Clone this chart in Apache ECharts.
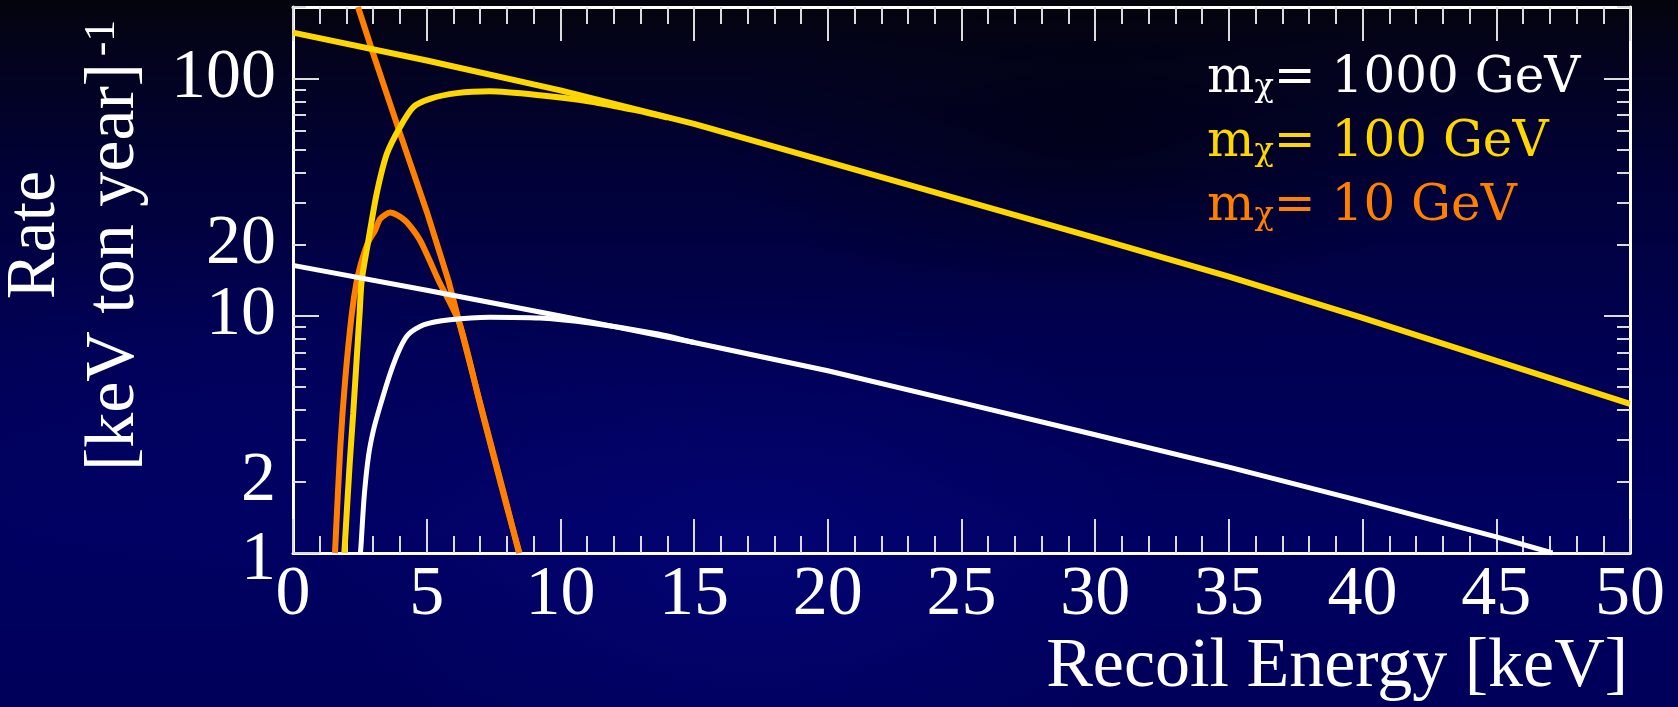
<!DOCTYPE html>
<html>
<head>
<meta charset="utf-8">
<title>WIMP recoil spectra</title>
<script src="https://cdn.jsdelivr.net/npm/echarts@6.0.0/dist/echarts.min.js"></script>
<style>
    html, body {
        margin: 0;
        padding: 0;
    }
    body {
        width: 1678px;
        height: 707px;
        background:
            radial-gradient(ellipse 420px 260px at 45% 78%, rgba(10, 10, 150, 0.35), rgba(0, 0, 0, 0) 100%),
            radial-gradient(ellipse 500px 200px at 15% 60%, rgba(5, 5, 120, 0.30), rgba(0, 0, 0, 0) 100%),
            radial-gradient(ellipse 380px 160px at 65% 20%, rgba(0, 0, 0, 0.45), rgba(0, 0, 0, 0) 100%),
            linear-gradient(to bottom, #04040c 0%, #03031a 6%, #010138 25%, #000052 50%, #000060 75%, #00005a 100%);
    }
    #chart {
        width: 1678px;
        height: 707px;
    }
</style>
</head>
<body>
<div id="chart"></div>
<script>
    // recoil energy [keV] / rate [keV ton year]^-1
    const flat1000 = [[0, 16.3], [5, 12.8], [10, 9.98], [15, 7.71], [20, 5.86], [25, 4.3], [30, 3.15], [35, 2.3], [40, 1.65], [45, 1.17], [47.1, 1.0]];
    const eff1000 = [[2.52, 1.0], [2.54, 1.06], [2.66, 1.72], [2.82, 2.55], [3.01, 3.3], [3.26, 4.17], [3.63, 5.69], [4.0, 7.28], [4.32, 8.35], [4.88, 9.15], [5.87, 9.62], [7.36, 9.86], [9.23, 9.77], [11.1, 9.31], [13.6, 8.4], [15, 7.71]];

    const flat100 = [[0, 156], [5, 119], [10, 89], [15, 64.3], [20, 44.5], [25, 30.8], [30, 21.3], [35, 14.6], [40, 9.8], [45, 6.45], [50, 4.25]];
    const eff100 = [[1.92, 1.0], [2.12, 2.38], [2.25, 3.86], [2.37, 6.28], [2.49, 10.2], [2.57, 14.1], [2.82, 20.8], [3.13, 32.7], [3.51, 48.1], [4.0, 62.3], [4.5, 75.7], [5.12, 82], [6.12, 86.7], [7.36, 88.3], [9.23, 85], [11.1, 80], [12.8, 73.5], [14, 68.4]];

    const flat10 = [[2.43, 200], [3, 127], [4, 58.8], [5, 27.5], [5.81, 14.1], [7, 4.28], [8, 1.59], [8.45, 1.0]];
    const eff10 = [[1.57, 1.0], [1.77, 2.8], [1.95, 5.34], [2.2, 10.2], [2.39, 14.1], [2.6, 17.5], [2.82, 20.5], [3.07, 22.9], [3.26, 25.6], [3.63, 27.2], [4.19, 25.2], [4.75, 20.8], [5.44, 14.1], [6.23, 9.25], [7, 4.22], [8, 1.56], [8.47, 1.0]];

    const xTicks = [0, 5, 10, 15, 20, 25, 30, 35, 40, 45, 50];
    const yMajorTicks = [1, 10, 100];
    const yMinorTicks = [2, 3, 4, 5, 6, 7, 8, 9, 20, 30, 40, 50, 60, 70, 80, 90, 200];
    const yMajorLabels = [1, 10, 100];
    const yMinorLabels = [2, 20];

    const legendRows = ['1000', '100', '10'];
    const colors = ['#ffffff', '#ffd700', '#ff7f00'];

    const serif = 'Liberation Serif';
    const tickStyle = { color: '#dcdcdc', width: 2 };
    const lineStyleAxis = { color: '#ffffff', width: 3 };

    let chart = echarts.init(document.getElementById('chart'));

    function yAxisOf(position, ticks, tickLen, labels, showLine) {
        return {
            type: 'log',
            logBase: 10,
            min: 1,
            max: 200,
            position: position,
            splitLine: { show: false },
            axisLine: { show: showLine, lineStyle: lineStyleAxis },
            axisTick: { show: true, inside: true, length: tickLen, customValues: ticks, lineStyle: tickStyle },
            axisLabel: labels ? {
                show: true,
                customValues: labels,
                // the "1" sits a little under its tick in the original
                formatter: function (v) {
                    let s = String(Math.round(v));
                    return s === '1' ? '{low|1}' : s;
                },
                rich: { low: { fontFamily: serif, fontSize: 70, color: '#ffffff', padding: [16, 0, 0, 0] } },
                color: '#ffffff',
                fontFamily: serif,
                fontSize: 70,
                margin: 17
            } : { show: false }
        };
    }

    function xAxisOf(position, showLabel) {
        return {
            type: 'value',
            min: 0,
            max: 50,
            interval: 5,
            position: position,
            splitLine: { show: false },
            axisLine: { show: true, lineStyle: lineStyleAxis },
            axisTick: { show: true, inside: true, length: 34, lineStyle: tickStyle },
            minorTick: { show: true, splitNumber: 5, length: 17, lineStyle: tickStyle },
            axisLabel: showLabel ? {
                show: true,
                color: '#ffffff',
                fontFamily: serif,
                fontSize: 70,
                margin: 8,
                customValues: xTicks
            } : { show: false }
        };
    }

    function curve(data, color, width, smooth) {
        return {
            type: 'line',
            data: data,
            showSymbol: false,
            symbol: 'none',
            smooth: smooth,
            lineStyle: { color: color, width: width },
            xAxisIndex: 0,
            yAxisIndex: 0
        };
    }

    let legendText = legendRows.map(function (m, i) {
        return {
            type: 'text',
            x: 1207,
            y: 54 + i * 64,
            style: {
                text: '{m|m}{s|χ}{t|= ' + m + ' GeV}',
                verticalAlign: 'top',
                rich: {
                    m: { fontFamily: 'DejaVu Serif', fontSize: 50, lineHeight: 50, fill: colors[i] },
                    s: { fontFamily: 'DejaVu Serif', fontSize: 32, lineHeight: 4, verticalAlign: 'bottom', fill: colors[i] },
                    t: { fontFamily: 'DejaVu Serif', fontSize: 50, lineHeight: 50, fill: colors[i] }
                }
            }
        };
    });

    chart.setOption({
        animation: false,
        backgroundColor: 'transparent',
        grid: { left: 293, right: 48, top: 7, bottom: 154, outerBoundsMode: 'none' },
        xAxis: [xAxisOf('bottom', true), xAxisOf('top', false)],
        yAxis: [
            yAxisOf('left', yMajorTicks, 26, yMajorLabels, true),
            yAxisOf('left', yMinorTicks, 13, yMinorLabels, false),
            yAxisOf('right', yMajorTicks, 26, null, true),
            yAxisOf('right', yMinorTicks, 13, null, false)
        ],
        series: [
            curve(flat10, colors[2], 6, false),
            curve(eff10, colors[2], 6, 0.25),
            curve(flat100, colors[1], 6, false),
            curve(eff100, colors[1], 6, 0.25),
            curve(flat1000, colors[0], 5, false),
            curve(eff1000, colors[0], 5, 0.25)
        ],
        graphic: [
            {
                type: 'text',
                x: 1628,
                y: 668,
                style: {
                    text: 'Recoil Energy [keV]',
                    font: '70px "Liberation Serif"',
                    fill: '#ffffff',
                    align: 'right',
                    verticalAlign: 'middle'
                }
            },
            {
                type: 'text',
                x: 36,
                y: 235,
                rotation: Math.PI / 2,
                style: {
                    text: 'Rate',
                    font: '70px "Liberation Serif"',
                    fill: '#ffffff',
                    align: 'center',
                    verticalAlign: 'middle'
                }
            },
            {
                type: 'text',
                x: 115,
                y: 267,
                rotation: Math.PI / 2,
                style: {
                    text: '[keV ton year]',
                    font: '70px "Liberation Serif"',
                    fill: '#ffffff',
                    align: 'center',
                    verticalAlign: 'middle'
                }
            },
            {
                type: 'text',
                x: 102,
                y: 38,
                rotation: Math.PI / 2,
                style: {
                    text: '-1',
                    font: '44px "Liberation Serif"',
                    fill: '#ffffff',
                    align: 'center',
                    verticalAlign: 'middle'
                }
            }
        ].concat(legendText)
    });
</script>
</body>
</html>
